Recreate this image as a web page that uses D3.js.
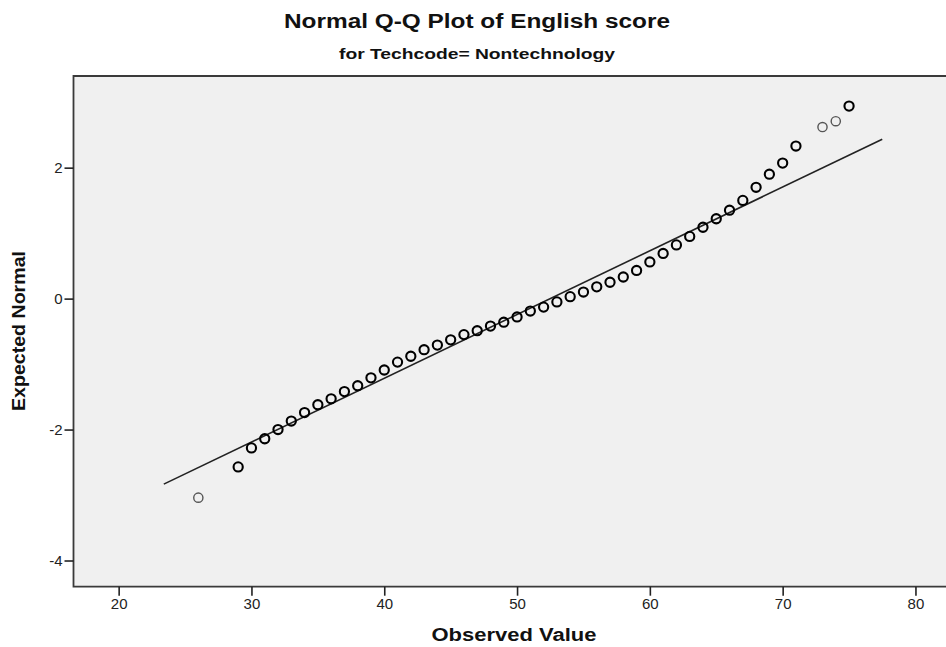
<!DOCTYPE html>
<html>
<head>
<meta charset="utf-8">
<script src="https://cdn.jsdelivr.net/npm/d3@7"></script>
<style>
  html, body { margin: 0; padding: 0; background: #ffffff; }
  svg { display: block; font-family: "Liberation Sans", Arial, sans-serif; }
</style>
</head>
<body>
<svg id="chart" width="946" height="647"></svg>
<script>
// Observed English scores (distinct values) and their expected normal quantiles
const observed = [26, 29, 30, 31, 32, 33, 34, 35, 36, 37, 38, 39, 40, 41, 42, 43, 44, 45,
  46, 47, 48, 49, 50, 51, 52, 53, 54, 55, 56, 57, 58, 59, 60, 61, 62, 63, 64, 65,
  66, 67, 68, 69, 70, 71, 73, 74, 75];
const expected = [-3.04, -2.57, -2.28, -2.14, -2.00, -1.87, -1.74, -1.62, -1.53, -1.42, -1.33,
  -1.21, -1.09, -0.97, -0.88, -0.78, -0.71, -0.63, -0.55, -0.49, -0.42, -0.36, -0.28,
  -0.19, -0.13, -0.05, 0.03, 0.10, 0.18, 0.25, 0.33, 0.43, 0.56, 0.69, 0.82, 0.95,
  1.09, 1.22, 1.35, 1.50, 1.70, 1.90, 2.07, 2.33, 2.62, 2.71, 2.94];
// Cases sharing each score (single cases print lighter)
const caseCount = [1, 2, 2, 2, 2, 2, 2, 2, 2, 2, 2, 2, 2, 2, 2, 2, 2, 2, 2, 2, 2, 2, 2,
  2, 2, 2, 2, 2, 2, 2, 2, 2, 2, 2, 2, 2, 2, 2, 2, 2, 2, 2, 2, 2, 1, 1, 2];

// Reference line: normal with the sample mean and standard deviation
const sampleMean = 52.5;
const sampleSD = 10.27;
const lineRange = [23.4, 77.5];

const xTicks = [20, 30, 40, 50, 60, 70, 80];
const yTicks = [-4, -2, 0, 2];

const title = "Normal Q-Q Plot of English score";
const subtitle = "for Techcode= Nontechnology";
const xTitle = "Observed Value";
const yTitle = "Expected Normal";

const svg = d3.select("#chart");
const W = 946, H = 647;
const plot = { left: 73.5, top: 76, right: 946, bottom: 586.7 };

const x = d3.scaleLinear().domain([16.6, 82.3]).range([plot.left, plot.right]);
const y = d3.scaleLinear().domain([-4.4, 3.4]).range([plot.bottom, plot.top]);

// Plot background
svg.append("rect")
  .attr("x", plot.left).attr("y", plot.top)
  .attr("width", plot.right - plot.left + 2)
  .attr("height", plot.bottom - plot.top)
  .attr("fill", "#f0f0f0");

// Frame: top, left and bottom edges
svg.append("path")
  .attr("d", `M${W + 2},${plot.top}H${plot.left}V${plot.bottom}H${W + 2}`)
  .attr("fill", "none")
  .attr("stroke", "#3a3a3a")
  .attr("stroke-width", 1.8);

// Axes
const xAxis = d3.axisBottom(x).tickValues(xTicks).tickSize(9).tickPadding(3).tickFormat(d3.format("d"));
const yAxis = d3.axisLeft(y).tickValues(yTicks).tickSize(9).tickPadding(2).tickFormat(d => d < 0 ? "-" + Math.abs(d) : d);

const gx = svg.append("g").attr("transform", `translate(0,${plot.bottom})`).call(xAxis);
const gy = svg.append("g").attr("transform", `translate(${plot.left},0)`).call(yAxis);
[gx, gy].forEach(g => {
  g.select(".domain").remove();
  g.selectAll(".tick line").attr("stroke", "#222").attr("stroke-width", 1.6);
  g.selectAll(".tick text")
    .attr("fill", "#222")
    .style("font-family", "'Liberation Sans', Arial, sans-serif")
    .style("font-size", "15px");
});

// Reference line
svg.append("line")
  .attr("x1", x(lineRange[0])).attr("y1", y((lineRange[0] - sampleMean) / sampleSD))
  .attr("x2", x(lineRange[1])).attr("y2", y((lineRange[1] - sampleMean) / sampleSD))
  .attr("stroke", "#222")
  .attr("stroke-width", 1.6);

// Points
const pts = observed.map((v, i) => ({ v, q: expected[i], n: caseCount[i] }));
svg.append("g").selectAll("circle")
  .data(pts)
  .join("circle")
  .attr("cx", d => x(d.v))
  .attr("cy", d => y(d.q))
  .attr("r", 4.6)
  .attr("fill", "none")
  .attr("stroke", d => d.n > 1 ? "#000" : "#555")
  .attr("stroke-width", d => d.n > 1 ? 2.1 : 1.4);

// Titles (bold, slightly widened lettering)
function label(text, px, py, size, width, rotate) {
  const t = svg.append("text")
    .attr("text-anchor", "middle")
    .style("font-size", size + "px").style("font-weight", "bold")
    .attr("fill", "#111")
    .attr("textLength", width)
    .attr("lengthAdjust", "spacingAndGlyphs")
    .text(text);
  if (rotate) t.attr("transform", `translate(${px},${py}) rotate(-90)`);
  else t.attr("x", px).attr("y", py);
  return t;
}

label(title, 477, 28, 20, 386);
label(subtitle, 477, 59, 15, 276);
label(xTitle, 514, 641, 18, 165);
label(yTitle, 25, 331, 18, 160, true);
</script>
</body>
</html>
